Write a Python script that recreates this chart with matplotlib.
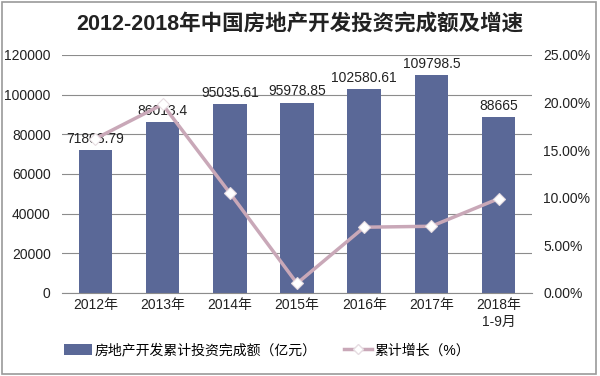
import matplotlib.pyplot as plt
from matplotlib.lines import Line2D
from matplotlib.patches import Patch, Rectangle

plt.rcParams['font.family'] = ['Liberation Sans', 'Noto Sans CJK SC']

# data
years = ['2012年', '2013年', '2014年', '2015年', '2016年', '2017年', '2018年\n1-9月']
investment = [71803.79, 86013.4, 95035.61, 95978.85, 102580.61, 109798.5, 88665]
inv_labels = ['71803.79', '86013.4', '95035.61', '95978.85', '102580.61', '109798.5', '88665']
growth = [16.2, 19.8, 10.5, 1.0, 6.9, 7.0, 9.9]

bar_color = '#5a6897'
line_color = '#c9a8b8'
txt = '#222222'

fig = plt.figure(figsize=(6, 3.76), dpi=100)
fig.patches.append(Rectangle((0.004, 0.006), 0.99, 0.99, transform=fig.transFigure,
                             fill=False, edgecolor='#9a9a9a', linewidth=1.2))

ax = fig.add_axes([0.103, 0.221, 0.784, 0.633])
x = range(len(years))
ax.bar(x, investment, width=0.5, color=bar_color, zorder=2)
ax.set_ylim(0, 120000)
ax.set_xlim(-0.5, len(years) - 0.5)
ax.set_yticks(range(0, 120001, 20000))
ax.yaxis.grid(True, color='#8c8c8c', linewidth=0.8, zorder=0)
ax.set_axisbelow(True)
for s in ['top', 'left', 'right']:
    ax.spines[s].set_visible(False)
ax.spines['bottom'].set_color('#8c8c8c')
ax.tick_params(axis='both', length=0, labelsize=10, colors=txt)
ax.tick_params(axis='x', pad=4)
ax.tick_params(axis='y', pad=8)
ax.set_xticks(list(x))
ax.set_xticklabels(years, linespacing=1.2, va='top')
for xi, v, lab in zip(x, investment, inv_labels):
    ax.text(xi, v + 2200, lab, ha='center', va='bottom', fontsize=10, color=txt, zorder=5)

ax2 = ax.twinx()
ax2.plot(list(x), growth, color=line_color, linewidth=2.5, marker='D', markersize=6.5,
         markerfacecolor='white', markeredgecolor='#e6dce1', markeredgewidth=0.8, zorder=4)
ax2.set_ylim(0, 25)
ax2.set_yticks([0, 5, 10, 15, 20, 25])
ax2.set_yticklabels([f'{v:.2f}%' for v in [0, 5, 10, 15, 20, 25]])
ax2.tick_params(axis='y', length=0, labelsize=10, colors=txt, pad=8)
for s in ['top', 'left', 'right', 'bottom']:
    ax2.spines[s].set_visible(False)

fig.suptitle('2012-2018年中国房地产开发投资完成额及增速', fontsize=15.5, fontweight='bold',
             y=0.965, color=txt)

handles = [Patch(facecolor=bar_color, label='房地产开发累计投资完成额（亿元）'),
           Line2D([], [], color=line_color, linewidth=2.5, marker='D', markersize=5,
                  markerfacecolor='white', markeredgecolor='#e6dce1',
                  label='累计增长（%）')]
fig.legend(handles=handles, loc='center', bbox_to_anchor=(0.445, 0.068), ncol=2,
           frameon=False, fontsize=10, columnspacing=2.0, handlelength=2.0,
           handleheight=0.9, handletextpad=0.2, borderaxespad=0)

fig.savefig('out.png', dpi=100)
